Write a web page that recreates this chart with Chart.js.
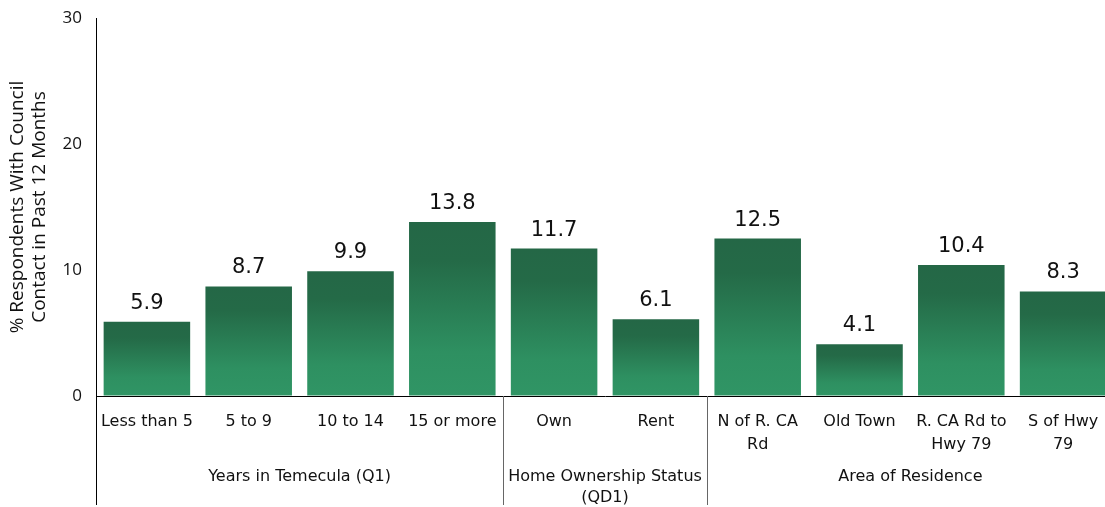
<!DOCTYPE html>
<html>
<head>
<meta charset="utf-8">
<script src="https://cdn.jsdelivr.net/npm/chart.js@4/dist/chart.umd.min.js"></script>
<style>
  html, body { margin:0; padding:0; background:#fff; overflow:hidden; }
  #wrap { width:1120px; height:507px; position:relative; }
</style>
</head>
<body>
<div id="wrap"><canvas id="chart"></canvas></div>
<script>
// data
const categories = ['Less than 5', '5 to 9', '10 to 14', '15 or more', 'Own', 'Rent',
  ['N of R. CA', 'Rd'], 'Old Town', ['R. CA Rd to', 'Hwy 79'], ['S of Hwy', '79']];
const contactPct = [5.9, 8.7, 9.9, 13.8, 11.7, 6.1, 12.5, 4.1, 10.4, 8.3];
const yTicks = [0, 10, 20, 30];
const groupLabels = [['Years in Temecula (Q1)'], ['Home Ownership Status', '(QD1)'], ['Area of Residence']];
const groupStart = [0, 4, 6];
const groupEnd = [3, 5, 9];

const labelFont = '"DejaVu Sans", Verdana, sans-serif';

function barGradient(ctx){
  const chart = ctx.chart;
  if(!chart.chartArea || ctx.raw === undefined) return '#2a8058';
  const y = chart.scales.y;
  const top = y.getPixelForValue(ctx.raw), bottom = y.getPixelForValue(0);
  const g = chart.ctx.createLinearGradient(0, top, 0, bottom);
  g.addColorStop(0, '#246746');
  g.addColorStop(0.22, '#246a47');
  g.addColorStop(0.75, '#2e9061');
  g.addColorStop(1, '#309565');
  return g;
}

// value labels, separators and group names
const extras = {
  id:'extras',
  afterDatasetsDraw(chart){
    const c = chart.ctx;
    c.save();
    c.fillStyle = '#111';
    c.font = '21px ' + labelFont;
    c.textAlign = 'center';
    c.textBaseline = 'alphabetic';
    chart.getDatasetMeta(0).data.forEach((bar, i)=>{
      c.fillText(contactPct[i].toFixed(1), bar.x, bar.y - 13);
    });
    c.restore();
  },
  afterDraw(chart){
    const c = chart.ctx, x = chart.scales.x, area = chart.chartArea;
    const bottom = 505;
    c.save();
    c.strokeStyle = '#000';
    c.lineWidth = 1;
    c.beginPath();
    c.moveTo(Math.round(area.left) + 0.5, area.bottom);
    c.lineTo(Math.round(area.left) + 0.5, bottom);
    c.stroke();
    c.strokeStyle = '#666';
    groupStart.slice(1).forEach(s=>{
      const px = (x.getPixelForValue(s - 1) + x.getPixelForValue(s)) / 2;
      c.beginPath();
      c.moveTo(Math.round(px) + 0.5, area.bottom);
      c.lineTo(Math.round(px) + 0.5, bottom);
      c.stroke();
    });
    c.fillStyle = '#111';
    c.font = '16px ' + labelFont;
    c.textAlign = 'center';
    c.textBaseline = 'middle';
    groupLabels.forEach((lines, g)=>{
      const l = (x.getPixelForValue(groupStart[g] - 1) + x.getPixelForValue(groupStart[g])) / 2;
      const r = (x.getPixelForValue(groupEnd[g]) + x.getPixelForValue(groupEnd[g] + 1)) / 2;
      lines.forEach((t, k)=> c.fillText(t, (l + r) / 2, 477 + k * 21));
    });
    c.restore();
  }
};

const chart = new Chart(document.getElementById('chart').getContext('2d'), {
  type:'bar',
  data:{ labels:categories, datasets:[{ data:contactPct, backgroundColor:barGradient,
    borderWidth:0, barPercentage:0.85, categoryPercentage:1 }] },
  options:{
    animation:false, responsive:true, maintainAspectRatio:false,
    layout:{ padding:{ top:18, right:6, left:0, bottom:0 } },
    plugins:{ legend:{display:false}, tooltip:{enabled:false} },
    scales:{
      x:{
        grid:{ display:false, drawTicks:false },
        border:{ display:true, color:'#000', width:1 },
        ticks:{ color:'#111', font:{ family:labelFont, size:16, lineHeight:1.4 }, padding:15, maxRotation:0, autoSkip:false },
        afterFit(s){ s.height = 111; }
      },
      y:{
        min:0, max:30,
        grid:{ display:true, drawOnChartArea:false, drawTicks:true, tickLength:14, color:'rgba(0,0,0,0)' },
        border:{ display:true, color:'#000', width:1 },
        afterBuildTicks(s){ s.ticks = yTicks.map(v=>({value:v})); },
        ticks:{ color:'#111', font:{ family:'"Open Sans", sans-serif', size:17 }, padding:0 },
        title:{ display:true, text:['% Respondents With Council', 'Contact in Past 12 Months'],
          color:'#111', font:{ family:'"Open Sans", sans-serif', size:19, lineHeight:1.16 }, padding:{ top:7, bottom:0 } },
        afterFit(s){ s.width = 96; }
      }
    }
  },
  plugins:[extras]
});
</script>
</body>
</html>
